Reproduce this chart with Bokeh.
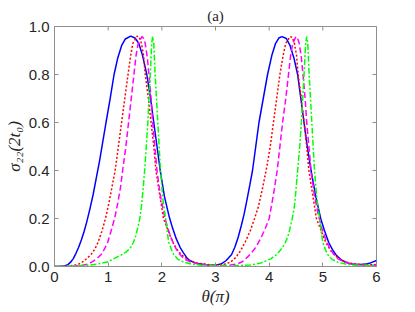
import math
from bokeh.plotting import figure
from bokeh.models import Range1d, FixedTicker, NumeralTickFormatter
from bokeh.embed import file_html
from bokeh.resources import INLINE

# ---- data (theta in units of pi) ----
blue_x = [0.00, 0.10, 0.20, 0.25, 0.30, 0.35, 0.40, 0.45, 0.50, 0.55, 0.60, 0.66, 0.72, 0.78,
          0.84, 0.90, 0.96, 1.03, 1.11, 1.18, 1.25, 1.32, 1.42, 1.50, 1.57, 1.64, 1.72, 1.79,
          1.85, 1.91, 1.97, 2.05, 2.14, 2.20, 2.27, 2.34, 2.40, 2.47, 2.52, 2.62, 2.72, 2.87,
          3.00, 3.10, 3.20, 3.30, 3.36, 3.42, 3.48, 3.53, 3.58, 3.64, 3.69, 3.75, 3.81, 3.89,
          3.97, 4.05, 4.12, 4.18, 4.24, 4.32, 4.39, 4.46, 4.53, 4.59, 4.65, 4.71, 4.78, 4.87,
          4.96, 5.03, 5.11, 5.18, 5.24, 5.33, 5.40, 5.50, 5.60, 5.70, 5.80, 5.90, 6.00]
blue_y = [0.000, 0.000, 0.003, 0.008, 0.018, 0.033, 0.055, 0.080, 0.110, 0.145, 0.185, 0.240, 0.300, 0.370,
          0.440, 0.520, 0.600, 0.690, 0.800, 0.870, 0.920, 0.948, 0.960, 0.952, 0.930, 0.880, 0.800, 0.700,
          0.600, 0.500, 0.400, 0.290, 0.205, 0.160, 0.115, 0.080, 0.058, 0.035, 0.025, 0.015, 0.010, 0.006,
          0.005, 0.010, 0.025, 0.050, 0.080, 0.120, 0.170, 0.215, 0.270, 0.340, 0.400, 0.500, 0.600, 0.700,
          0.800, 0.880, 0.930, 0.952, 0.958, 0.950, 0.920, 0.870, 0.800, 0.700, 0.600, 0.500, 0.400, 0.290,
          0.200, 0.150, 0.100, 0.070, 0.050, 0.030, 0.020, 0.012, 0.008, 0.008, 0.010, 0.016, 0.025]

red_x = [0.00, 0.20, 0.37, 0.45, 0.53, 0.60, 0.68, 0.75, 0.81, 0.88, 0.95, 1.01, 1.07, 1.13,
         1.19, 1.25, 1.31, 1.37, 1.42, 1.46, 1.54, 1.58, 1.62, 1.66, 1.69, 1.75, 1.80, 1.85,
         1.89, 1.96, 2.03, 2.10, 2.16, 2.22, 2.31, 2.41, 2.52, 2.66, 2.85, 3.00,
         3.14, 3.28, 3.38, 3.47, 3.56, 3.65, 3.72, 3.80, 3.88, 3.96, 4.02, 4.08, 4.14, 4.20,
         4.26, 4.31, 4.39, 4.43, 4.47, 4.51, 4.54, 4.60, 4.65, 4.70, 4.74, 4.81, 4.88, 4.95,
         5.01, 5.07, 5.16, 5.26, 5.37, 5.50, 5.70, 5.85, 6.00]
red_y = [0.000, 0.000, 0.005, 0.010, 0.020, 0.033, 0.050, 0.072, 0.100, 0.145, 0.200, 0.260, 0.330, 0.400,
         0.500, 0.600, 0.700, 0.800, 0.880, 0.930, 0.960, 0.955, 0.930, 0.880, 0.800, 0.700, 0.600, 0.500,
         0.400, 0.300, 0.200, 0.160, 0.125, 0.094, 0.062, 0.040, 0.025, 0.014, 0.008, 0.006,
         0.008, 0.018, 0.038, 0.067, 0.105, 0.150, 0.195, 0.250, 0.330, 0.420, 0.500, 0.600, 0.700, 0.800,
         0.880, 0.930, 0.958, 0.955, 0.930, 0.880, 0.800, 0.700, 0.600, 0.500, 0.400, 0.300, 0.200, 0.160,
         0.125, 0.094, 0.062, 0.040, 0.025, 0.014, 0.008, 0.007, 0.008]

magenta_x = [0.00, 0.30, 0.50, 0.62, 0.71, 0.80, 0.87, 0.93, 0.99, 1.05, 1.12, 1.18, 1.23, 1.27,
             1.33, 1.38, 1.43, 1.48, 1.52, 1.56, 1.63, 1.66, 1.69, 1.73, 1.76, 1.80, 1.83, 1.87,
             1.91, 1.97, 2.04, 2.11, 2.18, 2.25, 2.33, 2.41, 2.52, 2.66, 2.85, 3.00,
             3.14, 3.28, 3.40, 3.50, 3.60, 3.68, 3.75, 3.85, 3.93, 4.00, 4.08, 4.15, 4.20, 4.25,
             4.31, 4.36, 4.40, 4.44, 4.50, 4.53, 4.56, 4.60, 4.63, 4.67, 4.70, 4.74, 4.78, 4.84,
             4.91, 4.98, 5.05, 5.12, 5.20, 5.28, 5.39, 5.53, 5.72, 6.00]
magenta_y = [0.000, 0.000, 0.004, 0.010, 0.020, 0.035, 0.050, 0.072, 0.100, 0.145, 0.200, 0.265, 0.330, 0.400,
             0.500, 0.600, 0.700, 0.800, 0.880, 0.930, 0.958, 0.950, 0.930, 0.870, 0.800, 0.700, 0.600, 0.500,
             0.400, 0.300, 0.220, 0.160, 0.115, 0.080, 0.052, 0.032, 0.020, 0.011, 0.006, 0.004,
             0.004, 0.006, 0.010, 0.020, 0.040, 0.060, 0.080, 0.120, 0.160, 0.200, 0.300, 0.400, 0.500, 0.600,
             0.700, 0.800, 0.880, 0.930, 0.958, 0.950, 0.930, 0.870, 0.800, 0.700, 0.600, 0.500, 0.400, 0.300,
             0.220, 0.160, 0.115, 0.080, 0.052, 0.032, 0.020, 0.011, 0.006, 0.005]

green_x = [0.00, 0.40, 0.60, 0.80, 1.00, 1.17, 1.28, 1.36, 1.42, 1.47, 1.51, 1.55, 1.59, 1.62,
           1.65, 1.68, 1.71, 1.74, 1.76, 1.785, 1.81, 1.83, 1.85, 1.875, 1.90, 1.925, 1.95, 1.975,
           2.02, 2.07, 2.10, 2.13, 2.18, 2.22, 2.30, 2.41, 2.55, 2.70, 3.00,
           3.30, 3.65, 3.85, 4.03, 4.15, 4.25, 4.30, 4.35, 4.39, 4.43, 4.47, 4.50, 4.53, 4.57,
           4.60, 4.625, 4.65, 4.68, 4.70, 4.72, 4.745, 4.77, 4.795, 4.82, 4.845, 4.89, 4.94, 4.97,
           5.00, 5.05, 5.09, 5.17, 5.28, 5.42, 5.57, 6.00]
green_y = [0.000, 0.002, 0.005, 0.010, 0.020, 0.040, 0.052, 0.065, 0.080, 0.100, 0.125, 0.160, 0.200, 0.250,
           0.320, 0.400, 0.500, 0.600, 0.700, 0.800, 0.930, 0.958, 0.930, 0.800, 0.700, 0.600, 0.500, 0.400,
           0.280, 0.200, 0.145, 0.100, 0.070, 0.050, 0.030, 0.018, 0.010, 0.006, 0.003,
           0.003, 0.006, 0.015, 0.032, 0.052, 0.080, 0.100, 0.125, 0.160, 0.200, 0.250, 0.320, 0.400, 0.500,
           0.600, 0.700, 0.800, 0.930, 0.958, 0.930, 0.800, 0.700, 0.600, 0.500, 0.400, 0.280, 0.200, 0.145,
           0.100, 0.070, 0.050, 0.030, 0.018, 0.010, 0.006, 0.004]

x_ticks = [0, 1, 2, 3, 4, 5, 6]
y_ticks = [0.0, 0.2, 0.4, 0.6, 0.8, 1.0]
x_min, x_max = 0, 6
y_min, y_max = 0, 1

title_text = "(a)"
x_label = "θ(π)"
y_label = "σ₂₂(2t₀)"

AX = "#8f8f8f"
TXT = "#262626"

p = figure(width=400, height=308, x_range=Range1d(x_min, x_max), y_range=Range1d(y_min, y_max),
           output_backend="svg", toolbar_location=None, title=title_text)
p.min_border_left = 54
p.min_border_right = 24
p.min_border_top = 26
p.min_border_bottom = 42
p.background_fill_color = "white"
p.border_fill_color = "white"
p.outline_line_color = AX
p.outline_line_width = 1
p.xgrid.visible = False
p.ygrid.visible = False

p.title.align = "center"
p.title.text_font = "Liberation Serif"
p.title.text_font_style = "normal"
p.title.text_font_size = "15px"
p.title.text_color = TXT
p.title.standoff = 6

for ax, ticks in ((p.xaxis[0], x_ticks), (p.yaxis[0], y_ticks)):
    ax.ticker = FixedTicker(ticks=ticks)
    ax.axis_line_color = AX
    ax.major_tick_line_color = AX
    ax.major_tick_in = 4
    ax.major_tick_out = 0
    ax.minor_tick_line_color = None
    ax.major_label_text_color = TXT
    ax.major_label_text_font = "Liberation Sans"
    ax.major_label_text_font_size = "15px"
    ax.major_label_standoff = 5
    ax.axis_label_text_font = "Liberation Serif"
    ax.axis_label_text_font_style = "italic"
    ax.axis_label_text_font_size = "17px"
    ax.axis_label_text_color = TXT
    ax.axis_label_standoff = 2
p.yaxis[0].formatter = NumeralTickFormatter(format="0.0")
p.xaxis[0].axis_label = x_label
p.yaxis[0].axis_label = y_label

# mirrored inward ticks on the top and right edges of the box
p.ray(x=x_ticks, y=[y_max] * len(x_ticks), length=4, length_units="screen",
      angle=-math.pi / 2, line_color=AX, line_width=1)
p.ray(x=[x_max] * len(y_ticks), y=y_ticks, length=4, length_units="screen",
      angle=math.pi, line_color=AX, line_width=1)

p.line(blue_x, blue_y, line_color="#0000ff", line_width=1.5)
p.line(red_x, red_y, line_color="#ff0000", line_width=1.5, line_dash="2 2")
p.line(magenta_x, magenta_y, line_color="#ff00ff", line_width=1.5, line_dash="6 3")
p.line(green_x, green_y, line_color="#00ff00", line_width=1.5, line_dash="6 2 2 2")

open("out.html", "w").write(file_html(p, INLINE))
